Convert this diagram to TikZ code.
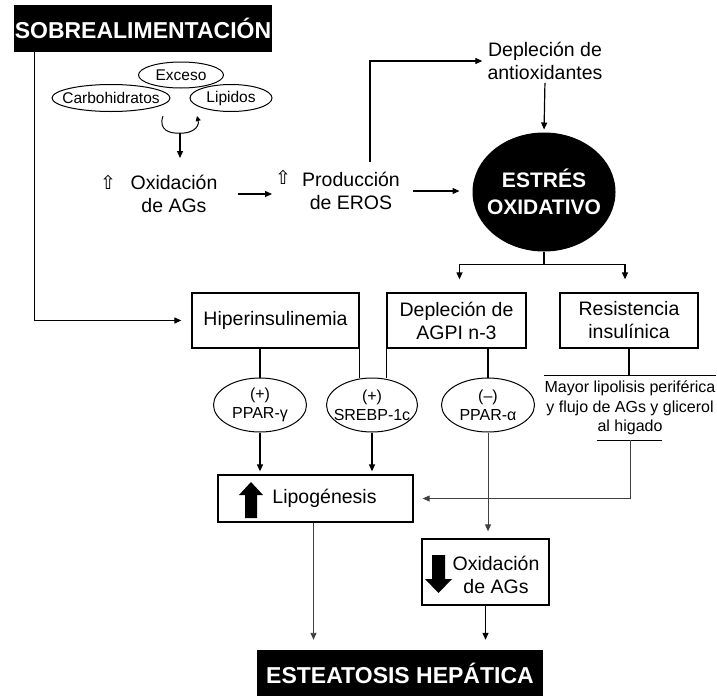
\documentclass[tikz,border=0pt]{standalone}
\usepackage{fontspec}
\setmainfont{Liberation Sans}
\newfontfamily\symfont{DejaVu Sans}
\usetikzlibrary{arrows.meta,shapes.geometric}

\tikzset{
  lbl/.style={inner sep=0pt, align=center, font=\fontsize{19.5}{23}\selectfont},
  box/.style={lbl, draw, line width=1.3pt},
  negro/.style={fill=black, text=white, inner sep=0pt, font=\fontsize{23}{25}\selectfont\bfseries},
  oval/.style={draw, ellipse, inner sep=-20pt, line width=1pt, align=center},
  con/.style={line width=1.2pt},
  arr/.style={con, -{Triangle[length=7pt,width=6pt]}},
  fino/.style={line width=0.9pt, black!75},
  subir/.style={inner sep=0pt, font=\symfont\fontsize{19}{19}\selectfont},
}

\begin{document}
\begin{tikzpicture}[x=1pt,y=-1pt]
\useasboundingbox (0,0) rectangle (717,696);

% parte superior
\node[negro, minimum width=258pt, minimum height=47pt] (sobre) at (143,28.5) {SOBREALIMENTACIÓN};
\node[oval, minimum width=85pt, minimum height=26pt, font=\fontsize{15.5}{15.5}\selectfont] (exceso) at (181,75) {Exceso};
\node[oval, minimum width=118pt, minimum height=27pt, font=\fontsize{15.5}{15.5}\selectfont] (carbo) at (111,98) {Carbohidratos};
\node[oval, minimum width=82pt, minimum height=27pt, font=\fontsize{15.5}{15.5}\selectfont] (lipidos) at (231,98) {Lipidos};
\coordinate (curlL) at (163,116);
\coordinate (curl) at (180,133);
\coordinate (curlR) at (197,116);
\draw[con, line width=1pt] (curlL) .. controls (158,130) and (170,134) .. (curl);
\draw[con, line width=1pt, -{Triangle[length=5pt,width=5pt]}] (curl) .. controls (190,134) and (200,128) .. (curlR);

\node[subir] (upA) at (108,182) {⇧};
\node[lbl] (oxag) at (174,194) {Oxidación\\de AGs};
\node[subir] (upP) at (283,177) {⇧};
\node[lbl] (prod) at (351,191) {Producción\\de EROS};
\node[lbl] (depl) at (545,61) {Depleción de\\antioxidantes};
\node[oval, fill=black, text=white, font=\fontsize{21}{27}\selectfont\bfseries,
  minimum width=142pt, minimum height=118pt] (estres) at (544,192) {ESTRÉS\\OXIDATIVO};

\draw[arr, shorten >=17pt] (curl) -- (curl |- oxag.north);
\draw[arr, shorten <=20pt, shorten >=30pt] (oxag.east) -- (prod.west |- oxag.east);
\draw[arr, shorten <=13pt, shorten >=13pt] (prod.east) -- (prod.east -| estres.west);
\draw[arr, shorten >=5pt] ([xshift=19pt,yshift=10pt]prod.north) |- (depl.west);
\draw[arr, shorten <=3pt, shorten >=3pt] (depl.south) -- (estres.north);

% fila central
\node[box, minimum width=167pt, minimum height=55pt] (hiper) at (275.5,320.5) {Hiperinsulinemia};
\node[box, minimum width=139pt, minimum height=55pt] (agpi) at (456.5,320.5) {Depleción de\\AGPI n-3};
\node[box, minimum width=138pt, minimum height=55pt] (resis) at (629,320.5) {Resistencia\\insulínica};

\draw[arr, shorten >=10pt] ([xshift=21pt]sobre.south west) |- (hiper.west);
\draw[con] (estres.south) -- ++(0,13) coordinate (split);
\draw[arr, shorten >=13pt] (split) -| ([xshift=3pt]agpi.north);
\draw[arr, shorten >=13pt] (split) -| ([xshift=-4pt]resis.north);

\node[oval, minimum width=93pt, minimum height=54pt, font=\fontsize{16}{19}\selectfont] (ppg) at (260,405) {(+)\\PPAR-γ};
\node[oval, minimum width=91pt, minimum height=54pt, font=\fontsize{16}{19}\selectfont] (srebp) at (372,405) {(+)\\SREBP-1c};
\node[oval, minimum width=93pt, minimum height=54pt, font=\fontsize{16}{19}\selectfont] (ppa) at (488,405) {(–)\\PPAR-α};
\node[lbl, font=\fontsize{16}{19.5}\selectfont, inner ysep=5pt] (mayor) at (630,408) {Mayor lipolisis periférica\\y flujo de AGs y glicerol\\al higado};

\draw[con] (ppg.north |- hiper.south) -- (ppg.north);
\draw[con] (hiper.south east) -- (hiper.south east |- srebp.north);
\draw[con] (agpi.south west) -- (agpi.south west |- srebp.north);
\draw[con] (ppa.north |- agpi.south) -- (ppa.north);
\draw[con] (resis.south) -- (resis.south |- mayor.north);
\draw[con] (mayor.north west) -- (mayor.north east);
\draw[con] ([xshift=-33pt]mayor.south) -- ([xshift=32pt]mayor.south);

% parte inferior
\node[box, minimum width=195pt, minimum height=47pt] (lipo) at (315.5,498.5) {\hspace*{18pt}Lipogénesis};
\node[box, minimum width=127pt, minimum height=66pt] (oxi) at (485.5,572) {};
\node[lbl] (oxitxt) at (496,575) {Oxidación\\de AGs};
\node[negro, minimum width=286pt, minimum height=46pt] (este) at (400,673) {ESTEATOSIS HEPÁTICA};

\fill (251,482) -- (263,495) -- (257,495) -- (257,518) -- (245,518) -- (245,495) -- (239,495) -- cycle;
\fill (438.5,593) -- (452,579) -- (445,579) -- (445,555) -- (432,555) -- (432,579) -- (425,579) -- cycle;

\draw[arr, shorten >=3pt] (ppg.south) -- (ppg.south |- lipo.north);
\draw[arr, shorten >=3pt] (srebp.south) -- (srebp.south |- lipo.north);
\draw[arr, fino, shorten >=7pt] (ppa.south) -- (ppa.south |- oxi.north);
\draw[arr, fino, shorten >=9pt] (mayor.south) |- (lipo.east);
\draw[arr, fino, shorten >=10pt] ([xshift=-2pt]lipo.south) -- ([xshift=-2pt]lipo.south |- este.north);
\draw[arr, shorten >=10pt] (oxi.south) -- (oxi.south |- este.north);
\end{tikzpicture}
\end{document}
